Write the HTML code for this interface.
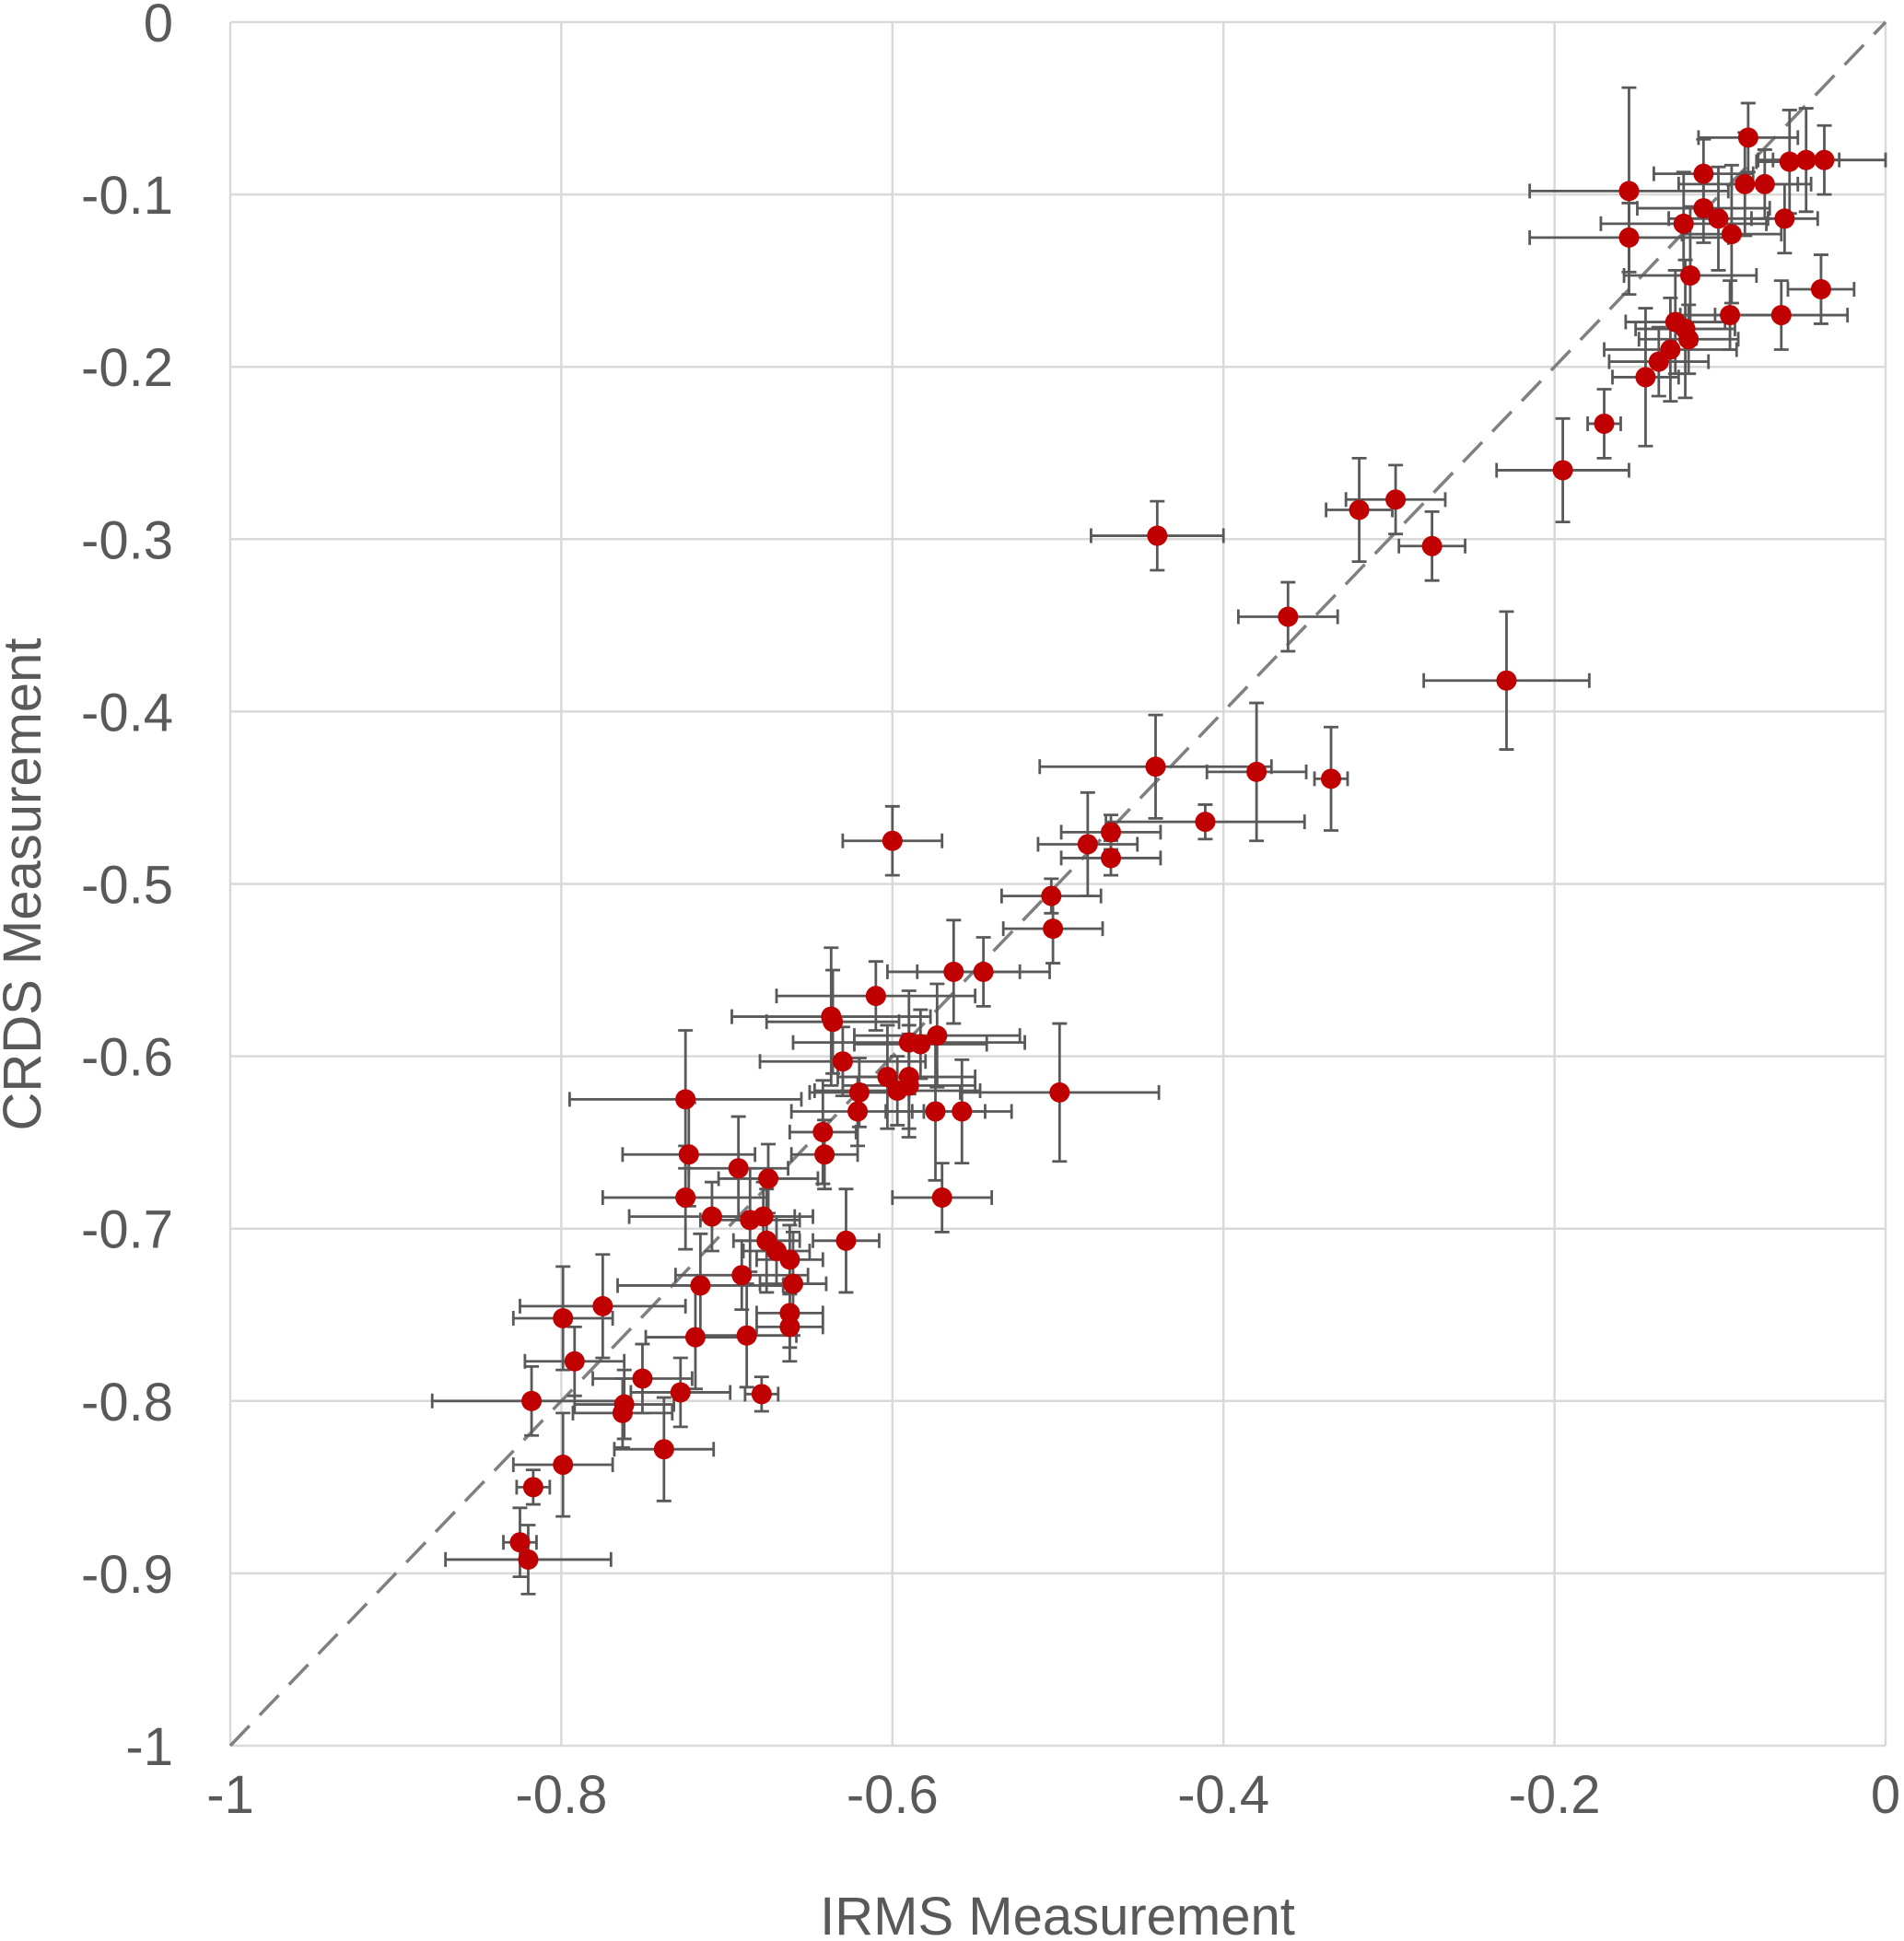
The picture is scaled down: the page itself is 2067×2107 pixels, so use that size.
<!DOCTYPE html>
<html><head><meta charset="utf-8"><style>
html,body{margin:0;padding:0;background:#fff}
svg{display:block}
text{font-family:"Liberation Sans",sans-serif;fill:#595959}
</style></head><body>
<svg id="chart" width="2067" height="2107" viewBox="0 0 2067 2107" xmlns="http://www.w3.org/2000/svg"></svg>
<script>
const xTicks=[-1,-0.8,-0.6,-0.4,-0.2,0];
const xTickLabels=["-1","-0.8","-0.6","-0.4","-0.2","0"];
const yTicks=[0,-0.1,-0.2,-0.3,-0.4,-0.5,-0.6,-0.7,-0.8,-0.9,-1];
const yTickLabels=["0","-0.1","-0.2","-0.3","-0.4","-0.5","-0.6","-0.7","-0.8","-0.9","-1"];
const irms=[-0.155,-0.155,-0.110,-0.083,-0.085,-0.073,-0.058,-0.048,-0.037,-0.122,-0.110,-0.101,-0.093,-0.061,-0.118,-0.039,-0.127,-0.121,-0.119,-0.094,-0.063,-0.130,-0.137,-0.145,-0.170,-0.195,-0.318,-0.296,-0.274,-0.440,-0.361,-0.229,-0.441,-0.380,-0.335,-0.411,-0.600,-0.482,-0.468,-0.468,-0.504,-0.503,-0.563,-0.545,-0.610,-0.637,-0.636,-0.590,-0.573,-0.583,-0.630,-0.603,-0.590,-0.597,-0.590,-0.499,-0.620,-0.621,-0.574,-0.558,-0.642,-0.641,-0.725,-0.723,-0.693,-0.675,-0.725,-0.570,-0.709,-0.686,-0.678,-0.676,-0.670,-0.628,-0.662,-0.660,-0.716,-0.691,-0.662,-0.662,-0.775,-0.799,-0.688,-0.719,-0.792,-0.751,-0.728,-0.679,-0.818,-0.762,-0.763,-0.738,-0.799,-0.817,-0.825,-0.820];
const crds=[-0.098,-0.125,-0.088,-0.067,-0.094,-0.094,-0.081,-0.080,-0.080,-0.117,-0.108,-0.114,-0.123,-0.114,-0.147,-0.155,-0.174,-0.178,-0.184,-0.170,-0.170,-0.190,-0.197,-0.206,-0.233,-0.260,-0.283,-0.277,-0.304,-0.298,-0.345,-0.382,-0.432,-0.435,-0.439,-0.464,-0.475,-0.477,-0.470,-0.485,-0.507,-0.526,-0.551,-0.551,-0.565,-0.577,-0.580,-0.592,-0.588,-0.593,-0.603,-0.612,-0.612,-0.620,-0.617,-0.621,-0.621,-0.632,-0.632,-0.632,-0.644,-0.657,-0.625,-0.657,-0.665,-0.671,-0.682,-0.682,-0.693,-0.695,-0.693,-0.707,-0.713,-0.707,-0.718,-0.732,-0.733,-0.727,-0.749,-0.757,-0.745,-0.752,-0.762,-0.763,-0.777,-0.787,-0.795,-0.796,-0.800,-0.802,-0.807,-0.828,-0.837,-0.850,-0.882,-0.892];
const xErr=[.06,.06,.03,.03,.04,.02,.02,.02,.04,.05,.04,.03,.03,.02,.04,.02,.03,.03,.03,.03,.04,.04,.03,.02,.01,.04,.02,.03,.02,.04,.03,.05,.07,.03,.01,.06,.03,.03,.03,.03,.03,.03,.04,.04,.06,.06,.04,.07,.05,.04,.05,.03,.04,.05,.04,.06,.03,.04,.03,.03,.02,.02,.07,.04,.03,.03,.05,.03,.05,.03,.03,.02,.02,.02,.02,.02,.05,.04,.02,.02,.05,.03,.03,.03,.03,.03,.03,.01,.06,.03,.03,.03,.03,.01,.01,.05];
const yErr=[.06,.02,.02,.02,.03,.02,.03,.03,.02,.03,.02,.03,.04,.02,.04,.02,.03,.04,.02,.02,.02,.03,.02,.04,.02,.03,.03,.02,.02,.02,.02,.04,.03,.04,.03,.01,.02,.03,.01,.01,.01,.02,.03,.02,.02,.04,.03,.03,.03,.02,.02,.03,.03,.02,.03,.04,.02,.02,.04,.03,.03,.02,.04,.03,.03,.02,.03,.02,.02,.03,.02,.03,.02,.03,.02,.03,.03,.02,.02,.02,.03,.03,.03,.03,.02,.02,.02,.01,.02,.02,.02,.03,.03,.01,.02,.02];

const NS="http://www.w3.org/2000/svg";
const svg=document.getElementById('chart');
const X0=250,X1=2047,Y0=24,Y1=1895;
const sx=v=>X0+(v+1)*(X1-X0);
const sy=v=>Y0+(-v)*(Y1-Y0);
function mk(tag,attrs,parent){const e=document.createElementNS(NS,tag);for(const k in attrs)e.setAttribute(k,attrs[k]);(parent||svg).appendChild(e);return e;}

const grid=mk('g',{});


xTicks.forEach(t=>{const l=mk('line',{x1:sx(t),x2:sx(t),y1:Y0,y2:Y1,stroke:'#d9d9d9','stroke-width':2.5},grid);

});
yTicks.forEach(t=>{const l=mk('line',{x1:X0,x2:X1,y1:sy(t),y2:sy(t),stroke:'#d9d9d9','stroke-width':2.5},grid);

});

xTicks.forEach((t,i)=>{const e=mk('text',{x:sx(t),y:1968,'text-anchor':'middle','font-size':58});e.textContent=xTickLabels[i];

});
yTicks.forEach((t,i)=>{const e=mk('text',{x:188,y:sy(t)+21,'text-anchor':'end','font-size':58});e.textContent=yTickLabels[i];

});

const xt=mk('text',{x:1148,y:2100,'text-anchor':'middle','font-size':58});xt.textContent='IRMS Measurement';


const yt=mk('text',{x:0,y:0,'text-anchor':'middle','font-size':58,transform:'translate(44,960) rotate(-90)'});yt.textContent='CRDS Measurement';



const diag=mk('line',{x1:sx(-1),y1:sy(-1),x2:sx(0),y2:sy(0),stroke:'#808080','stroke-width':3.5,'stroke-dasharray':'30 16'});



const eb=mk('g',{stroke:'#595959','stroke-width':2.8,fill:'none'});


const cap=8;
irms.forEach((x,i)=>{const y=crds[i];
const a=sx(x-xErr[i]),b=sx(Math.min(0,x+xErr[i])),c=sy(y);
const d=sy(y+yErr[i]),e=sy(y-yErr[i]),f=sx(x);
mk('path',{d:`M${a},${c}H${b}M${a},${c-cap}V${c+cap}M${b},${c-cap}V${c+cap}M${f},${d}V${e}M${f-cap},${d}H${f+cap}M${f-cap},${e}H${f+cap}`},eb);});

const pts=mk('g',{fill:'#c00000'});


irms.forEach((x,i)=>{const p=mk('circle',{cx:sx(x),cy:sy(crds[i]),r:11},pts);

});
</script>
</body></html>
